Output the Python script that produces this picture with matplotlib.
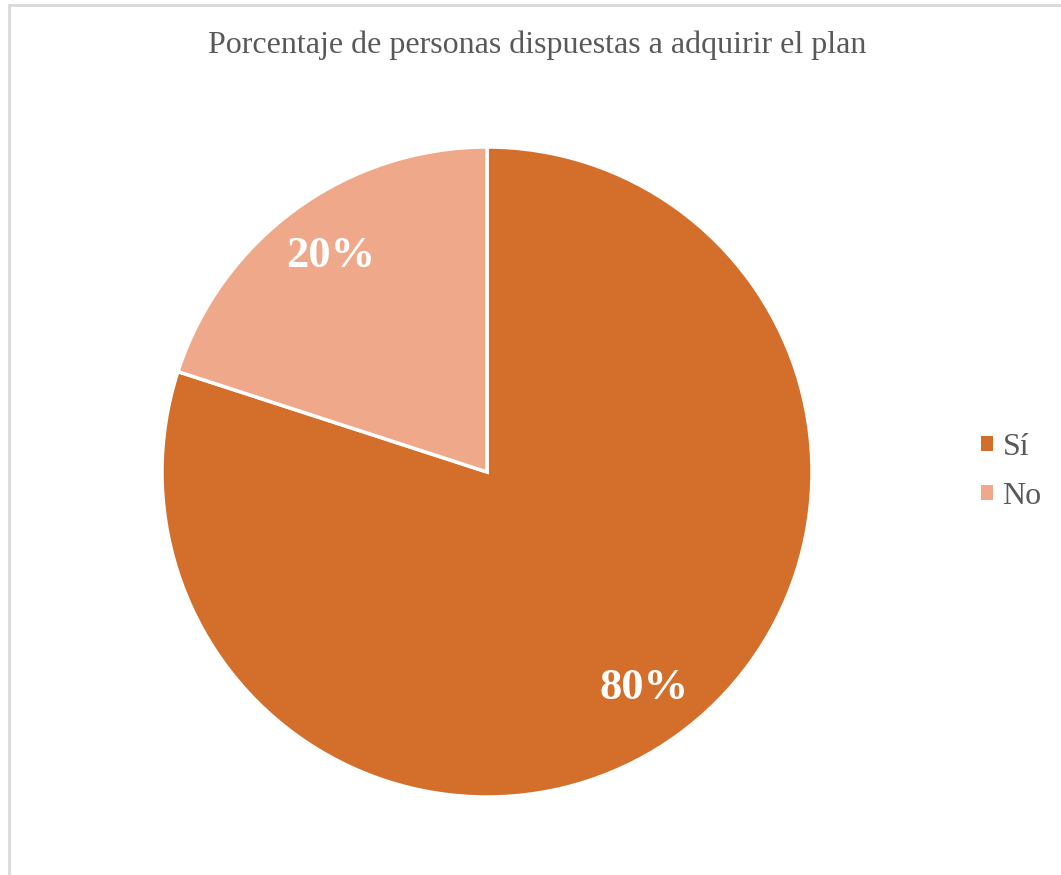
import matplotlib.pyplot as plt
from matplotlib.patches import Rectangle, Patch

# Datos de la encuesta
categorias = ["Sí", "No"]
porcentajes = [80, 20]
colores = ["#D36F2B", "#F0A88A"]

plt.rcParams['font.family'] = ['Liberation Serif', 'DejaVu Serif']

W, H = 1061, 875
fig = plt.figure(figsize=(W / 100, H / 100), dpi=100)

# Marco del área del gráfico
fig.patches.append(Rectangle((9 / W, -0.01), 1.1, 1 - 5 / H + 0.01,
                             transform=fig.transFigure, fill=False,
                             edgecolor="#d9d9d9", linewidth=2))

cx, cy, r = 487, 472, 325
ax = fig.add_axes([(cx - r) / W, (H - cy - r) / H, 2 * r / W, 2 * r / H])

wedges, textos, autotextos = ax.pie(
    porcentajes, colors=colores, startangle=90, counterclock=False,
    autopct=lambda p: f"{p:.0f}%", pctdistance=0.82,
    wedgeprops=dict(edgecolor="white", linewidth=2.5),
    textprops=dict(color="white", fontsize=32, fontweight="bold"))
ax.set_xlim(-1, 1)
ax.set_ylim(-1, 1)

fig.text(537 / W, 1 - 45 / H, "Porcentaje de personas dispuestas a adquirir el plan",
         ha="center", va="center", fontsize=23, color="#595959")

# Leyenda con cuadros sin borde
handles = [Patch(facecolor=c, edgecolor="none") for c in colores]
ax.legend(handles, categorias, loc="center left",
          bbox_to_anchor=(959 / W, 1 - 472 / H), bbox_transform=fig.transFigure,
          frameon=False, fontsize=23, labelcolor="#595959",
          handlelength=0.36, handleheight=0.36, handletextpad=0.3,
          labelspacing=0.62, borderpad=0.2)

plt.savefig("out.png", dpi=100)
